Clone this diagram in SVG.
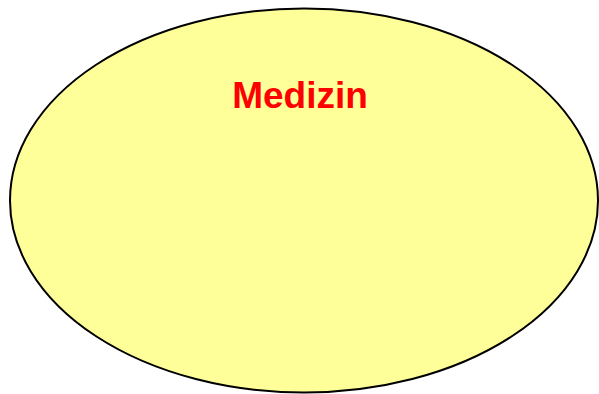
<svg xmlns="http://www.w3.org/2000/svg" width="599" height="394" viewBox="0 0 599 394">
<style>
.n{fill:#FFFF99;stroke:#000;stroke-width:2}
.t{font-family:"Liberation Sans",Arial,sans-serif;font-weight:bold;font-size:37px;fill:#FF0000;text-anchor:middle}
</style>
<rect width="599" height="394" fill="#fff"/>
<g id="medizin">
<ellipse class="n" cx="304" cy="200.5" rx="294" ry="192"/>
<text class="t" x="300" y="108">Medizin</text>
</g>
<g id="connectors"/>
</svg>
